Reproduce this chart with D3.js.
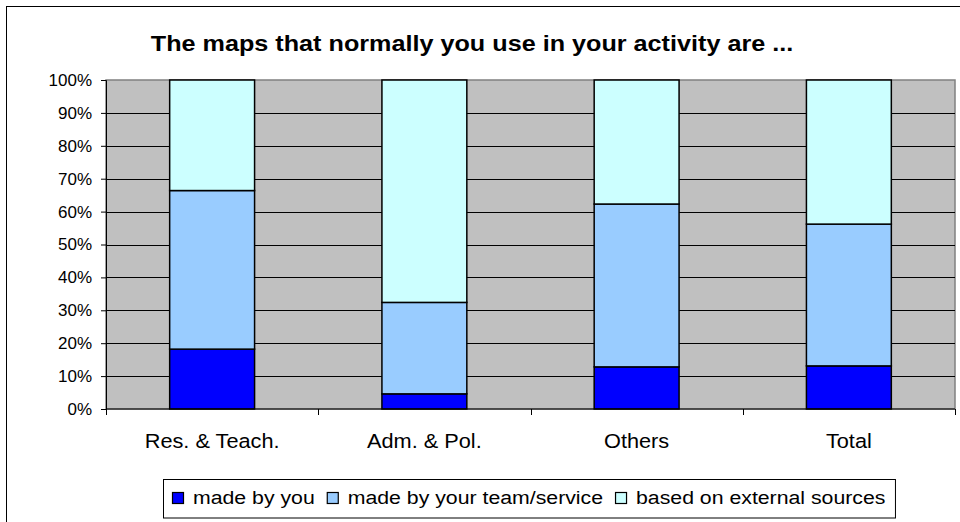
<!DOCTYPE html>
<html>
<head>
<meta charset="utf-8">
<script src="https://cdn.jsdelivr.net/npm/d3@7"></script>
<style>
  html, body { margin: 0; padding: 0; background: #fff; }
  svg { display: block; font-family: "Liberation Sans", Arial, sans-serif; }
</style>
</head>
<body>
<svg id="chart" width="960" height="522"></svg>
<script>
// Share of maps by origin, per respondent group (percent of group)
const categories = ["Res. & Teach.", "Adm. & Pol.", "Others", "Total"];
const seriesNames = ["made by you", "made by your team/service", "based on external sources"];
const madeByYou = [18.2, 4.6, 12.8, 13.1];
const madeByTeam = [48.2, 27.8, 49.5, 43.1];
const externalSources = [33.6, 67.6, 37.7, 43.8];
const tickValues = [0, 10, 20, 30, 40, 50, 60, 70, 80, 90, 100];
const colors = ["#0000FF", "#99CCFF", "#CCFFFF"];

const rows = categories.map((c, i) => ({
  cat: c,
  [seriesNames[0]]: madeByYou[i],
  [seriesNames[1]]: madeByTeam[i],
  [seriesNames[2]]: externalSources[i]
}));

const svg = d3.select("#chart");
const plot = { left: 106, top: 80, right: 955, bottom: 409 };
const stretch = 1.12; // horizontal widening of the chart lettering

// outer chart frame (extends past the right and bottom edges)
svg.append("rect")
  .attr("x", 6.5).attr("y", 6.5)
  .attr("width", 1000).attr("height", 1000)
  .attr("fill", "#fff").attr("stroke", "#000").attr("stroke-width", 1);

svg.append("text")
  .attr("text-anchor", "middle")
  .attr("font-size", 22.5).attr("font-weight", "bold")
  .attr("transform", `translate(472,51) scale(${stretch},1)`)
  .text("The maps that normally you use in your activity are ...");

const x = d3.scaleBand().domain(categories)
  .range([plot.left, plot.right]).paddingInner(0.6).paddingOuter(0.3);
const xOuter = d3.scaleBand().domain(categories).range([plot.left, plot.right]);
const y = d3.scaleLinear().domain([0, 100]).range([plot.bottom, plot.top]);

// plot background
svg.append("rect")
  .attr("x", plot.left).attr("y", plot.top)
  .attr("width", plot.right - plot.left).attr("height", plot.bottom - plot.top)
  .attr("fill", "#C0C0C0").attr("stroke", "#808080").attr("stroke-width", 1.5);

// horizontal gridlines
svg.append("g").selectAll("line")
  .data(tickValues.filter(v => v > 0 && v < 100))
  .join("line")
  .attr("x1", plot.left).attr("x2", plot.right)
  .attr("y1", d => Math.round(y(d)) + 0.5).attr("y2", d => Math.round(y(d)) + 0.5)
  .attr("stroke", "#000").attr("stroke-width", 1);

// stacked bars
const stack = d3.stack().keys(seriesNames)(rows);
svg.append("g").selectAll("g")
  .data(stack)
  .join("g")
  .attr("fill", (d, i) => colors[i])
  .selectAll("rect")
  .data(d => d)
  .join("rect")
  .attr("x", d => x(d.data.cat))
  .attr("width", x.bandwidth())
  .attr("y", d => y(d[1]))
  .attr("height", d => y(d[0]) - y(d[1]))
  .attr("stroke", "#000").attr("stroke-width", 1.5);

// y axis
const yAxis = svg.append("g")
  .attr("transform", `translate(${plot.left},0)`)
  .call(d3.axisLeft(y).tickValues(tickValues).tickSize(5).tickPadding(9)
    .tickFormat(d => d + "%"));
yAxis.select(".domain").attr("stroke", "#000");
yAxis.selectAll("text").attr("font-size", 17).attr("fill", "#000")
  .attr("font-family", "'Liberation Sans', Arial, sans-serif");

// x axis with ticks on category boundaries
const xAxis = svg.append("g")
  .attr("transform", `translate(0,${plot.bottom})`);
xAxis.append("line")
  .attr("x1", plot.left).attr("x2", plot.right)
  .attr("stroke", "#000").attr("stroke-width", 1);
const bounds = categories.map(c => xOuter(c)).concat([plot.right]);
xAxis.selectAll("line.tick")
  .data(bounds).join("line").attr("class", "tick")
  .attr("x1", d => Math.round(d) + 0.5).attr("x2", d => Math.round(d) + 0.5)
  .attr("y1", 0).attr("y2", 6).attr("stroke", "#000");
xAxis.selectAll("text")
  .data(categories).join("text")
  .attr("transform", d => `translate(${xOuter(d) + xOuter.bandwidth() / 2},39) scale(1.06,1)`)
  .attr("text-anchor", "middle")
  .attr("font-size", 20.5)
  .text(d => d);

// legend
const legend = svg.append("g");
const legendBox = legend.append("rect")
  .attr("x", 163.5).attr("y", 479.5).attr("height", 38.5)
  .attr("fill", "#fff").attr("stroke", "#000").attr("stroke-width", 1);
let cx = 172;
seriesNames.forEach((name, i) => {
  legend.append("rect")
    .attr("x", cx + 0.5).attr("y", 492.5).attr("width", 11).attr("height", 11)
    .attr("fill", colors[i]).attr("stroke", "#000").attr("stroke-width", 1.2);
  const t = legend.append("text")
    .attr("transform", `translate(${cx + 21},504) scale(${stretch},1)`)
    .attr("font-size", 19)
    .text(name);
  cx += 21 + t.node().getComputedTextLength() * stretch + 12;
});
legendBox.attr("width", cx - 12 + 10 - 163.5);
</script>
</body>
</html>
